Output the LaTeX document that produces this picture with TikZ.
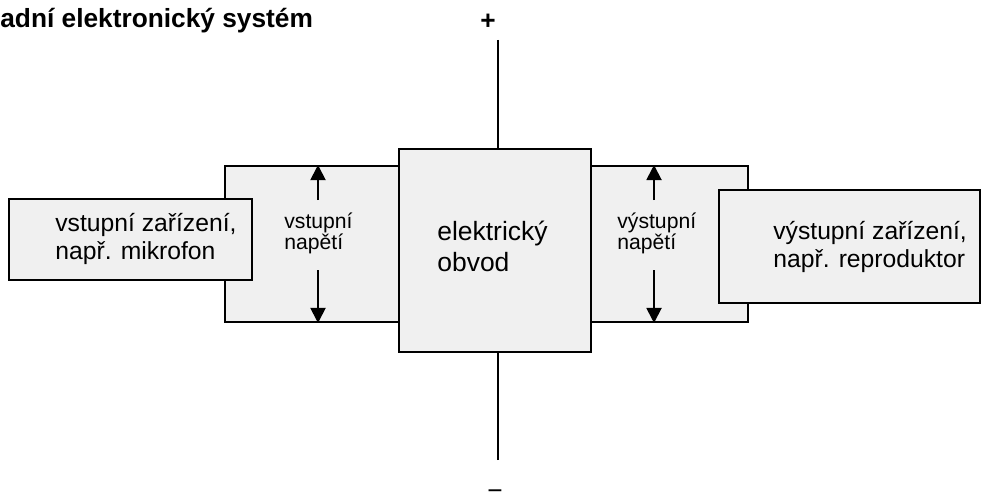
\documentclass[tikz,border=0pt]{standalone}
\usepackage{fontspec}
\setmainfont{Liberation Sans}
\usepackage{tikz}
\usetikzlibrary{positioning, arrows.meta, fit}
\definecolor{boxfill}{RGB}{240,240,240}

\begin{document}
\begin{tikzpicture}[
        x=0.567pt, y=-0.567pt,
        blok/.style={draw, rectangle, fill=boxfill, line width=1.1pt, inner sep=0pt},
        popis/.style={align=left, inner sep=0pt, font=\fontsize{14}{15.5}\selectfont},
        maly/.style={align=left, inner sep=0pt, font=\fontsize{12}{11.8}\selectfont},
        velky/.style={align=left, inner sep=0pt, font=\fontsize{15}{17.5}\selectfont},
        titul/.style={inner sep=0pt, font=\bfseries\fontsize{14.9}{17}\selectfont},
        vodic/.style={draw, line width=1.1pt},
        sipka/.style={draw, line width=1.1pt, -{Triangle[width=8.5pt, length=8.5pt]}}
    ]
    \useasboundingbox (0,0) rectangle (986,492);

    \node[titul, anchor=base west] (nadpis) at (0,28) {adní elektronický systém};
    \node[titul] (plus) at (488,22) {+};
    \node[titul, anchor=base, font=\fontsize{14.9}{17}\selectfont] (minus) at (495,499) {−};

    \node[blok, fit={(225,166) (399,322)}] (vstup) {};
    \node[blok, fit={(591,166) (748,322)}] (vystup) {};
    \node[blok, fit={(399,149) (591,352)}] (obvod) {};
    \node[blok, fit={(9,199) (252,280)}] (mikrofon) {};
    \node[blok, fit={(719,190) (980,303)}] (reproduktor) {};

    \node[popis, anchor=west] (tmikrofon) at (55,239) {vstupní zařízení,\\např. mikrofon};
    \node[popis, anchor=west] (treproduktor) at (773,247) {výstupní zařízení,\\např. reproduktor};
    \node[velky, anchor=west] (tobvod) at (437,246) {elektrický\\obvod};
    \node[maly, anchor=west] (tvstup) at (284,233) {vstupní\\napětí};
    \node[maly, anchor=west] (tvystup) at (617,233) {výstupní\\napětí};

    \coordinate (vplus) at (498,40);
    \coordinate (vminus) at (498,460);
    \draw[vodic] (vplus) -- (vplus |- obvod.north);
    \draw[vodic] (vminus) -- (vminus |- obvod.south);

    \coordinate (vs1) at (318,200);
    \coordinate (vs2) at (318,270);
    \coordinate (vy1) at (654,200);
    \coordinate (vy2) at (654,270);
    \draw[sipka] (vs1) -- (vs1 |- vstup.north);
    \draw[sipka] (vs2) -- (vs2 |- vstup.south);
    \draw[sipka] (vy1) -- (vy1 |- vystup.north);
    \draw[sipka] (vy2) -- (vy2 |- vystup.south);
\end{tikzpicture}
\end{document}
